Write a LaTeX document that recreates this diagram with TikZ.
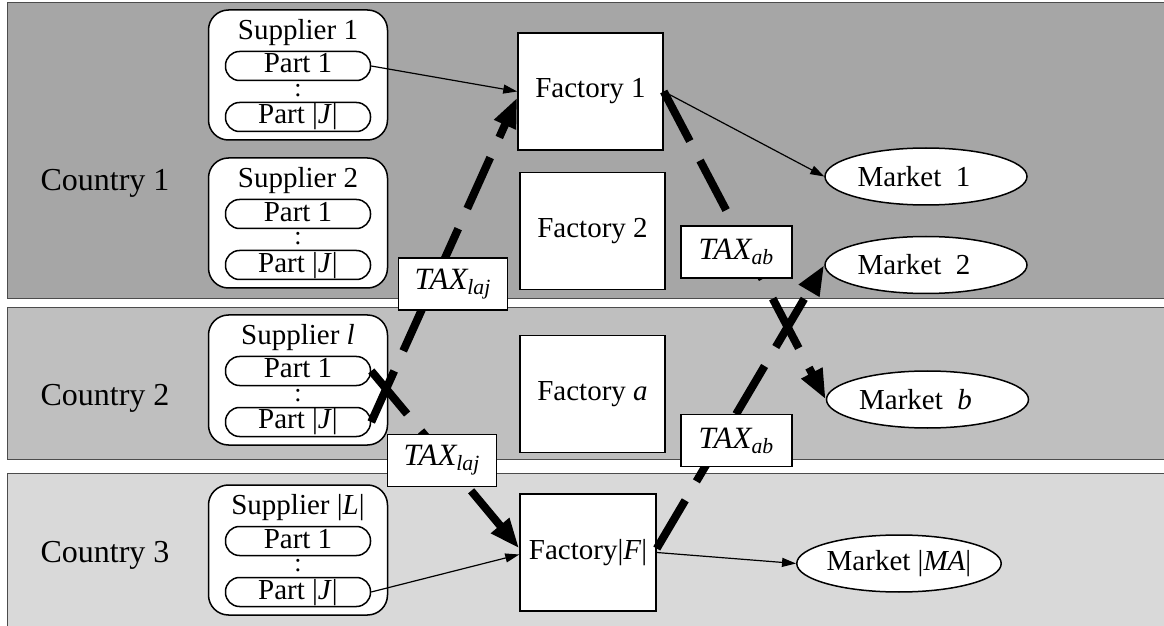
\documentclass[tikz,border=0pt]{standalone}
\usepackage{fontspec}
\setmainfont{Liberation Serif}
\usetikzlibrary{arrows.meta,shapes.geometric}

\definecolor{ctyA}{HTML}{A6A6A6}
\definecolor{ctyB}{HTML}{BFBFBF}
\definecolor{ctyC}{HTML}{D9D9D9}

\begin{document}
\begin{tikzpicture}[x=0.5pt,y=-0.5pt,font=\fontsize{14.5}{17}\selectfont,
  band/.style={draw=black!70, line width=0.5pt},
  ctylabel/.style={font=\fontsize{16}{19}\selectfont},
  supbox/.style={draw, fill=white, line width=0.75pt, rounded corners=10pt, minimum width=89.5pt, minimum height=65pt, inner sep=0pt},
  partbox/.style={draw, fill=white, line width=0.75pt, rounded corners=7pt, minimum width=72.5pt, minimum height=14.5pt, inner sep=0pt, text height=10pt, text depth=3pt},
  facbox/.style={draw, fill=white, line width=0.75pt, minimum width=72.5pt, minimum height=58.5pt, inner sep=0pt},
  mkt/.style={ellipse, draw, fill=white, line width=0.75pt, minimum width=101pt, minimum height=28.5pt, inner sep=0pt},
  taxbox/.style={draw, fill=white, line width=0.75pt, minimum width=54.5pt, minimum height=26pt, inner sep=0pt, font=\fontsize{15.5}{17}\selectfont\itshape},
  flow/.style={line width=0.6pt, -{Triangle[length=7pt,width=4.5pt]}},
  taxflow/.style={line width=4pt, dash pattern=on 28pt off 11pt, -{Triangle[length=15pt,width=11pt]}}]
\useasboundingbox (0,0) rectangle (1164,626);

% country bands
\fill[ctyA] (7,3) rectangle (1164,299);
\draw[band] (1164,3) -- (7,3) -- (7,299) -- (1164,299);
\fill[ctyB] (7,308) rectangle (1164,459);
\draw[band] (1164,308) -- (7,308) -- (7,459) -- (1164,459);
\fill[ctyC] (7,473) rectangle (1164,626);
\draw[band] (1164,473) -- (7,473) -- (7,626);

\node[ctylabel] (cty1) at (105,183) {Country 1};
\node[ctylabel] (cty2) at (105,398) {Country 2};
\node[ctylabel] (cty3) at (105,555) {Country 3};

% suppliers
\foreach \id/\lab/\top in {1/1/10, 2/2/158, l/\textit{l}/315, L/|\textit{L}|/485} {
  \node[supbox] (sup\id) at (298,\top+65) {};
  \node[inner sep=0pt] (sup\id-t) at (298,\top+23) {Supplier \lab};
  \node[partbox] (sup\id-p1) at (298,\top+56) {Part 1};
  \node[inner sep=0pt, font=\fontsize{13}{15}\selectfont] (sup\id-d) at (298,\top+81) {:};
  \node[partbox] (sup\id-pJ) at (298,\top+107) {Part |\textit{J}|};
}

% factories
\node[facbox] (fac1) at (590.5,91.5) {Factory 1};
\node[facbox] (fac2) at (592.5,231) {Factory 2};
\node[facbox] (faca) at (592.5,394) {Factory \textit{a}};
\node[facbox, minimum width=68pt] (facF) at (588,552.5) {Factory|\textit{F}|};

% markets
\node[mkt] (mkt1) at (926,176.5) {Market~ 1\hspace*{12pt}};
\node[mkt] (mkt2) at (926,265) {Market~ 2\hspace*{12pt}};
\node[mkt] (mktb) at (927.5,399.5) {Market~ \textit{b}\hspace*{12pt}};
\node[mkt, minimum width=94pt] (mktMA) at (899,563.5) {Market |\textit{MA}|};

% flows
\draw[flow] (sup1-p1.east) -- (fac1.west);
\draw[flow] (fac1.east) -- (mkt1.west);
\draw[flow] (supL-pJ.east) -- ([yshift=-1pt]facF.west);
\draw[flow] (facF.east) -- (mktMA.west);
\draw[taxflow] (supl-pJ.east) -- ([yshift=-3pt]fac1.west);
\draw[taxflow] (supl-p1.east) -- ([yshift=2pt]facF.west);
\draw[taxflow] (fac1.east) -- (mktb.west);
\draw[taxflow] ([yshift=2pt]facF.east) -- (mkt2.west);

% tax labels
\node[taxbox] (taxlaj1) at (453,284) {TAX\textsubscript{laj}};
\node[taxbox] (taxlaj2) at (442,460.5) {TAX\textsubscript{laj}};
\node[taxbox, minimum width=55.5pt] (taxab1) at (736.5,252) {TAX\textsubscript{ab}};
\node[taxbox, minimum width=55.5pt] (taxab2) at (736.5,440.5) {TAX\textsubscript{ab}};
\end{tikzpicture}
\end{document}
